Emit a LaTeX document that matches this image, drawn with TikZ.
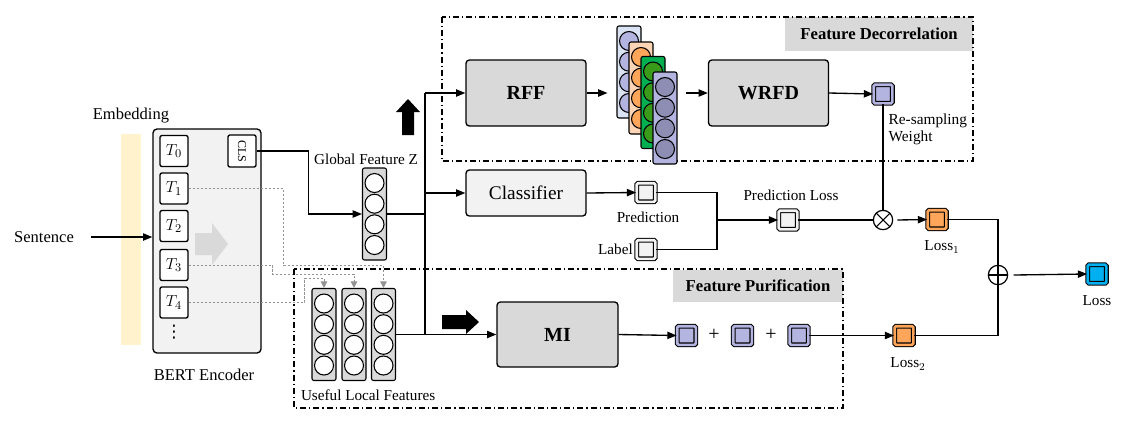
\documentclass[tikz,border=0pt]{standalone}
\usepackage{fontspec}
\setmainfont{Liberation Serif}
\newfontfamily\symfont{DejaVu Sans}
\usepackage{graphicx}
\usetikzlibrary{arrows.meta,positioning}
\definecolor{embyellow}{HTML}{FFF2CC}
\definecolor{lightgr}{HTML}{F2F2F2}
\definecolor{midgr}{HTML}{D9D9D9}
\definecolor{lav}{HTML}{B4B4E0}
\definecolor{lavdark}{HTML}{8E8EB4}
\definecolor{paleblue}{HTML}{DAE3F3}
\definecolor{peach}{HTML}{FBD5B5}
\definecolor{orng}{HTML}{FFA65A}
\definecolor{grn}{HTML}{00B050}
\definecolor{grndark}{HTML}{3A9A1A}
\definecolor{skyb}{HTML}{00B0F0}
\begin{document}
\begin{tikzpicture}[x=0.75pt,y=-0.75pt,
    >={Triangle[length=7pt,width=5.5pt]},
    line width=1pt,
    lbl/.style={font=\fontsize{11.4}{13}\selectfont, inner sep=1pt},
    biglbl/.style={font=\fontsize{12.4}{14}\selectfont, inner sep=1pt},
    blk/.style={draw, rounded corners=2.5pt, fill=midgr, minimum width=90pt, minimum height=49.5pt, font=\fontsize{15}{17}\selectfont\bfseries},
    tok/.style={draw, fill=white, rounded corners=1.5pt, minimum width=21pt, minimum height=23.25pt, inner sep=0pt, font=\fontsize{12.5}{13}\selectfont},
    sq/.style={draw, rounded corners=1pt, fill=#1, double=#1, double distance=2pt, line width=0.8pt, minimum size=14pt, inner sep=0pt},
    fcol/.style={draw, rounded corners=1.5pt, fill=#1, minimum width=18pt, minimum height=69pt, inner sep=0pt, line width=0.8pt},
    titlebg/.style={fill=midgr, inner sep=0pt, font=\fontsize{12.5}{14}\selectfont\bfseries},
    dashdot/.style={dash pattern=on 4.5pt off 2.2pt on 1pt off 2.2pt, line width=0.9pt},
    gdash/.style={draw=gray!85, dash pattern=on 2pt off 1pt, line width=0.7pt, -{Triangle[length=5pt,width=5pt]}},
    op/.style={draw, circle, minimum size=14.5pt, inner sep=0pt, line width=0.9pt}
    ]
    \useasboundingbox (0,0) rectangle (1126,430);

    %% encoder side
    \node[biglbl] (sent) at (44,237) {Sentence};
    \node[fill=embyellow, minimum width=15pt, minimum height=158pt, inner sep=0pt] (emb) at (131,239.5) {};
    \node[biglbl] (embtxt) at (131,116) {Embedding};
    \node[draw, rounded corners=3pt, fill=lightgr, minimum width=81pt, minimum height=168pt] (bert) at (207,241) {};
    \node[biglbl] (berttxt) at (204,375) {BERT Encoder};
    \fill[midgr] (195,233) -- (212,233) -- (212,223) -- (228,244) -- (212,265) -- (212,255) -- (195,255) -- cycle;
    \node[tok] (t0) at (174,151) {$T_0$};
    \node[tok] (t1) at (174,188.5) {$T_1$};
    \node[tok] (t2) at (174,226) {$T_2$};
    \node[tok] (t3) at (174,265) {$T_3$};
    \node[tok] (t4) at (174,302.5) {$T_4$};
    \node[inner sep=0pt, font=\fontsize{13}{14}\selectfont] (tdots) at (174,332) {\symfont ⋮};
    \node[tok, minimum height=24pt] (cls) at (242,151) {\rotatebox{-90}{\fontsize{9}{9}\selectfont CLS}};
    \draw[->] ([xshift=11pt]sent.east) -- (sent.east -| bert.west);

    %% global and local features
    \node[fcol=midgr] (gz) at (374.5,214) {};
    \foreach \dy in {-31,-10.3,10.3,31}
        \draw[fill=white, line width=0.8pt] (gz.center) ++(0,\dy) circle (9.5);
    \node[lbl] (gztxt) at (366,159) {Global Feature Z};
    \draw[->] (cls.east) -- ++(52,0) |- (gz.west);

    \foreach \n/\cx in {lf1/324,lf2/354,lf3/383.5}{
        \node[fcol=midgr] (\n) at (\cx,334.5) {};
        \foreach \dy in {-31,-10.3,10.3,31}
            \draw[fill=white, line width=0.8pt] (\n.center) ++(0,\dy) circle (9.5);
    }
    \node[lbl, anchor=west] (lftxt) at (299,395) {Useful Local Features};
    \draw[gdash] (t1.east) -- ++(95,0) -- ++(0,77) -| (lf3.north);
    \draw[gdash] (t3.east) -- ++(84,0) -- ++(0,9) -| (lf2.north);
    \draw[gdash] (t4.east) -- ++(116,0) -- ++(0,-24) -| (lf1.north);

    %% frames
    \node[titlebg, minimum width=141pt, minimum height=25.5pt] (fdtitle) at (879,34) {Feature Decorrelation};
    \draw[dashdot] (442,17) rectangle (973,161);
    \node[titlebg, minimum width=127.5pt, minimum height=24pt] (fptitle) at (758,286) {Feature Purification};
    \draw[dashdot] (294,269) rectangle (843,408);

    %% branches
    \coordinate (busT) at (425,93);
    \coordinate (busB) at (425,334.5);
    \node[blk] (rff) at (526,93) {RFF};
    \node[draw, rounded corners=2.5pt, fill=lightgr, minimum width=90pt, minimum height=34.5pt, font=\fontsize{14.5}{16}\selectfont] (clf) at (526,193) {Classifier};
    \node[blk, minimum width=90.75pt, minimum height=48.75pt] (mi) at (557.5,334.5) {MI};
    \draw (gz.east) -- (gz.east -| busT);
    \draw (busT) -- (busB);
    \draw[->] (busT) -- (rff.west);
    \draw[->] (clf.west -| busT) -- (clf.west);
    \draw[->] (lf3.east) -- (mi.west);
    \fill (402,135) -- (402,112) -- (396,112) -- (408,99) -- (420,112) -- (414,112) -- (414,135) -- cycle;
    \fill (442,315) -- (466,315) -- (466,310) -- (479,322) -- (466,334) -- (466,329) -- (442,329) -- cycle;

    %% decorrelation
    \foreach \n/\cx/\cy/\bg/\fg in {st1/629/72/paleblue/lav,st2/641/88/peach/orng,st3/653/102.5/grn/grndark,st4/665/118/lav/lavdark}{
        \node[fcol=\bg] (\n) at (\cx,\cy) {};
        \foreach \dy in {-31,-10.3,10.3,31}
            \draw[fill=\fg, line width=0.8pt] (\n.center) ++(0,\dy) circle (9.5);
    }
    \node[blk] (wrfd) at (768.5,93) {WRFD};
    \node[sq=lav] (wt) at (883,94) {};
    \node[font=\fontsize{11.5}{12.75}\selectfont, align=left, anchor=west, inner sep=0pt] (wttxt) at (888,129.5) {Re-sampling\\Weight};
    \draw[->] (rff.east) -- ([xshift=-6.75pt]st1.west |- rff.east);
    \draw[->] ([xshift=6pt]st4.east |- wrfd.west) -- (wrfd.west);
    \draw[->] (wrfd.east) -- (wt.west);

    %% prediction
    \node[sq=lightgr] (pr) at (646,192.5) {};
    \node[lbl] (prtxt) at (648,217) {Prediction};
    \node[sq=lightgr] (lb) at (646,249.5) {};
    \node[lbl, left=1pt of lb] (lbtxt) {Label};
    \coordinate (jn) at (717,220);
    \node[sq=lightgr] (pl) at (788,220) {};
    \node[lbl] (pltxt) at (791,195) {Prediction Loss};
    \draw[->] (clf.east) -- (pr.west);
    \draw (pr.east) -| (jn);
    \draw (lb.east) -| (jn);
    \draw[->] (jn) -- (pl.west);

    %% losses
    \node[op, path picture={\draw[line width=0.8pt] (path picture bounding box.north west) -- (path picture bounding box.south east) (path picture bounding box.north east) -- (path picture bounding box.south west);}] (mul) at (883,220) {};
    \node[sq=orng] (l1) at (937,219.5) {};
    \node[lbl] (l1txt) at (942,247) {Loss$_1$};
    \node[op, path picture={\draw[line width=0.8pt] (path picture bounding box.north) -- (path picture bounding box.south) (path picture bounding box.west) -- (path picture bounding box.east);}] (add) at (998,275) {};
    \node[sq=skyb] (loss) at (1097,274) {};
    \node[lbl] (losstxt) at (1097,301) {Loss};
    \draw (wt.south) -- (mul.north);
    \draw (pl.east) -- (mul.west);
    \draw[->] ([xshift=3pt]mul.east) -- (l1.west);
    \draw (l1.east) -| (add.north);
    \draw[->] ([xshift=4pt]add.east) -- (loss.west);

    \node[sq=lav] (m1) at (686.5,335.5) {};
    \node[lbl, font=\fontsize{15}{15}\selectfont] (plus1) at (714,335) {+};
    \node[sq=lav] (m2) at (742.5,335.5) {};
    \node[lbl, font=\fontsize{15}{15}\selectfont] (plus2) at (771,335) {+};
    \node[sq=lav] (m3) at (799,335.5) {};
    \node[sq=orng] (l2) at (904,335.5) {};
    \node[lbl] (l2txt) at (908,364) {Loss$_2$};
    \draw[->] (mi.east) -- (m1.west);
    \draw[->] (m3.east) -- (l2.west);
    \draw (l2.east) -| (add.south);

\end{tikzpicture}
\end{document}
